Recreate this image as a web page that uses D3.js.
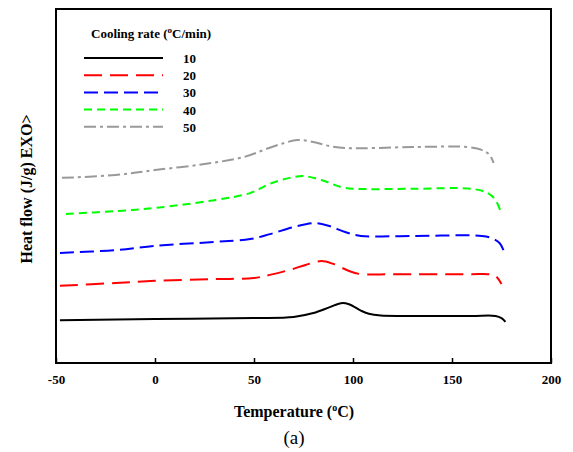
<!DOCTYPE html>
<html lang="en">
<head>
<meta charset="UTF-8" />
<title>DSC cooling curves</title>
<script src="https://cdn.jsdelivr.net/npm/d3@7"></script>
<style>
  body { margin: 0; background: #fff; }
  svg { font-family: "Liberation Serif", "Times New Roman", serif; }
</style>
</head>
<body>
<script>
// temperatures (deg C) and heat flow (arbitrary units, offset per curve)
var rate10T = [-48, 0, 50, 70, 80, 88, 94, 98, 104, 108, 114, 130, 160, 172, 175, 177];
var rate10Y = [1.21, 1.24, 1.27, 1.30, 1.41, 1.57, 1.69, 1.66, 1.48, 1.39, 1.34, 1.33, 1.33, 1.33, 1.27, 1.16];

var rate20T = [-48, -20, 0, 30, 50, 58, 68, 76, 84, 90, 98, 104, 120, 160, 168, 172, 175];
var rate20Y = [2.18, 2.26, 2.32, 2.37, 2.40, 2.49, 2.63, 2.77, 2.88, 2.80, 2.60, 2.51, 2.51, 2.51, 2.51, 2.46, 2.23];

var rate30T = [-48, -20, 0, 30, 48, 58, 70, 81, 88, 96, 104, 130, 165, 170, 174, 176];
var rate30Y = [3.11, 3.19, 3.31, 3.42, 3.50, 3.64, 3.84, 3.95, 3.87, 3.70, 3.59, 3.59, 3.59, 3.53, 3.39, 3.19];

var rate40T = [-45, -20, 0, 30, 48, 58, 68, 75, 84, 94, 102, 130, 160, 168, 172, 175];
var rate40Y = [4.21, 4.29, 4.38, 4.60, 4.80, 5.06, 5.23, 5.28, 5.17, 4.97, 4.92, 4.92, 4.92, 4.80, 4.60, 4.21];

var rate50T = [-47, -20, 0, 25, 45, 55, 65, 72, 80, 88, 96, 130, 158, 165, 169, 171];
var rate50Y = [5.23, 5.31, 5.45, 5.62, 5.82, 6.02, 6.21, 6.30, 6.24, 6.13, 6.07, 6.10, 6.10, 6.02, 5.88, 5.65];

var rateNames = ["10", "20", "30", "40", "50"];
var rateColors = ["#000000", "#ff0000", "#0000ff", "#00ff00", "#999999"];
var rateDashes = ["none", "18,8", "14,6", "8,5", "12,4,3,4"];
var xTicks = [-50, 0, 50, 100, 150, 200];

var series = [
  {T: rate10T, Y: rate10Y},
  {T: rate20T, Y: rate20Y},
  {T: rate30T, Y: rate30Y},
  {T: rate40T, Y: rate40Y},
  {T: rate50T, Y: rate50Y}
].map(function(s, i) {
  return {
    name: rateNames[i], color: rateColors[i], dash: rateDashes[i],
    points: s.T.map(function(t, j) { return [t, s.Y[j]]; })
  };
});

var W = 573, H = 452;
var plot = {left: 56, right: 551, top: 9, bottom: 363};

var svg = d3.select("body").append("svg")
  .attr("width", W)
  .attr("height", H);

var x = d3.scaleLinear().domain([-50, 200]).range([plot.left, plot.right]);
var y = d3.scaleLinear().domain([0, 10]).range([plot.bottom, plot.top]);

var line = d3.line()
  .x(function(d) { return x(d[0]); })
  .y(function(d) { return y(d[1]); })
  .curve(d3.curveCatmullRom.alpha(0.5));

// curves
svg.append("g").selectAll("path")
  .data(series)
  .enter()
  .append("path")
  .attr("d", function(d) { return line(d.points); })
  .attr("fill", "none")
  .attr("stroke", function(d) { return d.color; })
  .attr("stroke-width", 2)
  .attr("stroke-dasharray", function(d) { return d.dash; });

// frame
svg.append("rect")
  .attr("x", plot.left).attr("y", plot.top)
  .attr("width", plot.right - plot.left).attr("height", plot.bottom - plot.top)
  .attr("fill", "none")
  .attr("stroke", "#000")
  .attr("stroke-width", 2);

// bottom axis, ticks pointing inward
var xAxis = d3.axisBottom(x)
  .tickValues(xTicks)
  .tickFormat(function(d) { return String(d); })
  .tickSizeInner(-5).tickSizeOuter(0).tickPadding(12);
var gx = svg.append("g")
  .attr("transform", "translate(0," + plot.bottom + ")")
  .call(xAxis);
gx.select(".domain").remove();
gx.selectAll(".tick line").attr("stroke-width", 1.5);
gx.selectAll(".tick text")
  .attr("font-family", "Liberation Serif")
  .attr("font-size", 13)
  .attr("font-weight", "bold")
  .attr("fill", "#000");

// x title
var xt = svg.append("text")
  .attr("x", 294).attr("y", 417)
  .attr("text-anchor", "middle")
  .attr("font-size", 16)
  .attr("font-weight", "bold");
xt.append("tspan").text("Temperature (");
xt.append("tspan").attr("dy", -6).attr("font-size", 10).text("o");
xt.append("tspan").attr("dy", 6).text("C)");

svg.append("text")
  .attr("x", 294).attr("y", 444)
  .attr("text-anchor", "middle")
  .attr("font-size", 19)
  .text("(a)");

// y title
svg.append("text")
  .attr("transform", "translate(32,189) rotate(-90)")
  .attr("text-anchor", "middle")
  .attr("font-size", 16)
  .attr("font-weight", "bold")
  .text("Heat flow (J/g) EXO>");

// legend
var lt = svg.append("text")
  .attr("x", 91).attr("y", 38)
  .attr("font-size", 13)
  .attr("font-weight", "bold");
lt.append("tspan").text("Cooling rate (");
lt.append("tspan").attr("dy", -5).attr("font-size", 9).text("o");
lt.append("tspan").attr("dy", 5).text("C/min)");

var legend = svg.append("g").selectAll("g")
  .data(series)
  .enter()
  .append("g")
  .attr("transform", function(d, i) { return "translate(0," + (58 + i * 17.2) + ")"; });

legend.append("line")
  .attr("x1", 84).attr("x2", 163)
  .attr("stroke", function(d) { return d.color; })
  .attr("stroke-width", 2)
  .attr("stroke-dasharray", function(d) { return d.dash; });

legend.append("text")
  .attr("x", 183).attr("y", 5)
  .attr("font-size", 13)
  .attr("font-weight", "bold")
  .text(function(d) { return d.name; });
</script>
</body>
</html>
